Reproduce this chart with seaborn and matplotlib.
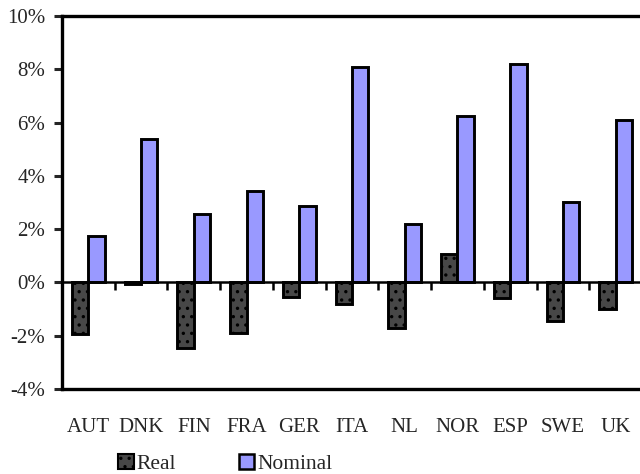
import numpy as np
import pandas as pd
import matplotlib
matplotlib.use("Agg")
import matplotlib.pyplot as plt
import seaborn as sns
from matplotlib.patches import Patch

countries = ["AUT", "DNK", "FIN", "FRA", "GER", "ITA", "NL", "NOR", "ESP", "SWE", "UK"]
real = [-1.95, -0.05, -2.45, -1.9, -0.55, -0.8, -1.7, 1.05, -0.6, -1.45, -1.0]
nominal = [1.75, 5.4, 2.55, 3.45, 2.85, 8.1, 2.2, 6.25, 8.2, 3.0, 6.1]
series = ["Real", "Nominal"]
yticks = [-4, -2, 0, 2, 4, 6, 8, 10]

df = pd.DataFrame({
    "country": countries * 2,
    "series": ["Real"] * len(countries) + ["Nominal"] * len(countries),
    "value": real + nominal,
})

sns.set_style("white")
plt.rcParams["font.family"] = ["Liberation Serif", "DejaVu Serif"]
plt.rcParams["hatch.linewidth"] = 1.2

fig = plt.figure(figsize=(6.4, 4.74), dpi=100)
ax = fig.add_axes([62 / 640, 1 - 389 / 474, (642 - 62) / 640, (389 - 16) / 474])

colors = {"Real": "#474747", "Nominal": "#9999ff"}
sns.barplot(data=df, x="country", y="value", hue="series", hue_order=series,
            order=countries, palette=colors, width=0.62, edgecolor="black",
            linewidth=2.1, saturation=1, legend=False, ax=ax)

for bar in ax.containers[0]:
    bar.set_hatch("..")

ax.set_ylim(-4, 10)
ax.set_xlim(-0.5, len(countries) - 0.5)
ax.set_yticks(yticks)
ax.set_yticklabels([f"{v}%" for v in yticks], fontsize=15)
ax.set_xlabel("")
ax.set_ylabel("")
ax.tick_params(axis="x", length=0, pad=21, labelsize=15)
ax.tick_params(axis="y", length=6, width=2.2, direction="out", pad=6, left=True)

for side in ["left", "top", "bottom", "right"]:
    ax.spines[side].set_linewidth(2.4)
    ax.spines[side].set_color("black")
    ax.spines[side].set_visible(True)

# zero line with boundary ticks
ax.axhline(0, color="black", linewidth=1.8, zorder=3)
bounds = np.arange(len(countries) - 1) + 0.5
ax.vlines(bounds, -0.3, 0, color="black", linewidth=1.8, zorder=3)

handles = [Patch(facecolor=colors["Real"], edgecolor="black", hatch="..", linewidth=1.5),
           Patch(facecolor=colors["Nominal"], edgecolor="black", linewidth=1.8)]
fig.legend(handles, series, loc="center", bbox_to_anchor=(0.352, 1 - 464 / 474),
           ncol=2, frameon=False, fontsize=15.5, handlelength=0.7, handleheight=0.7,
           handletextpad=0.15, columnspacing=2.9, borderpad=0)

fig.savefig("out.png", dpi=100)
